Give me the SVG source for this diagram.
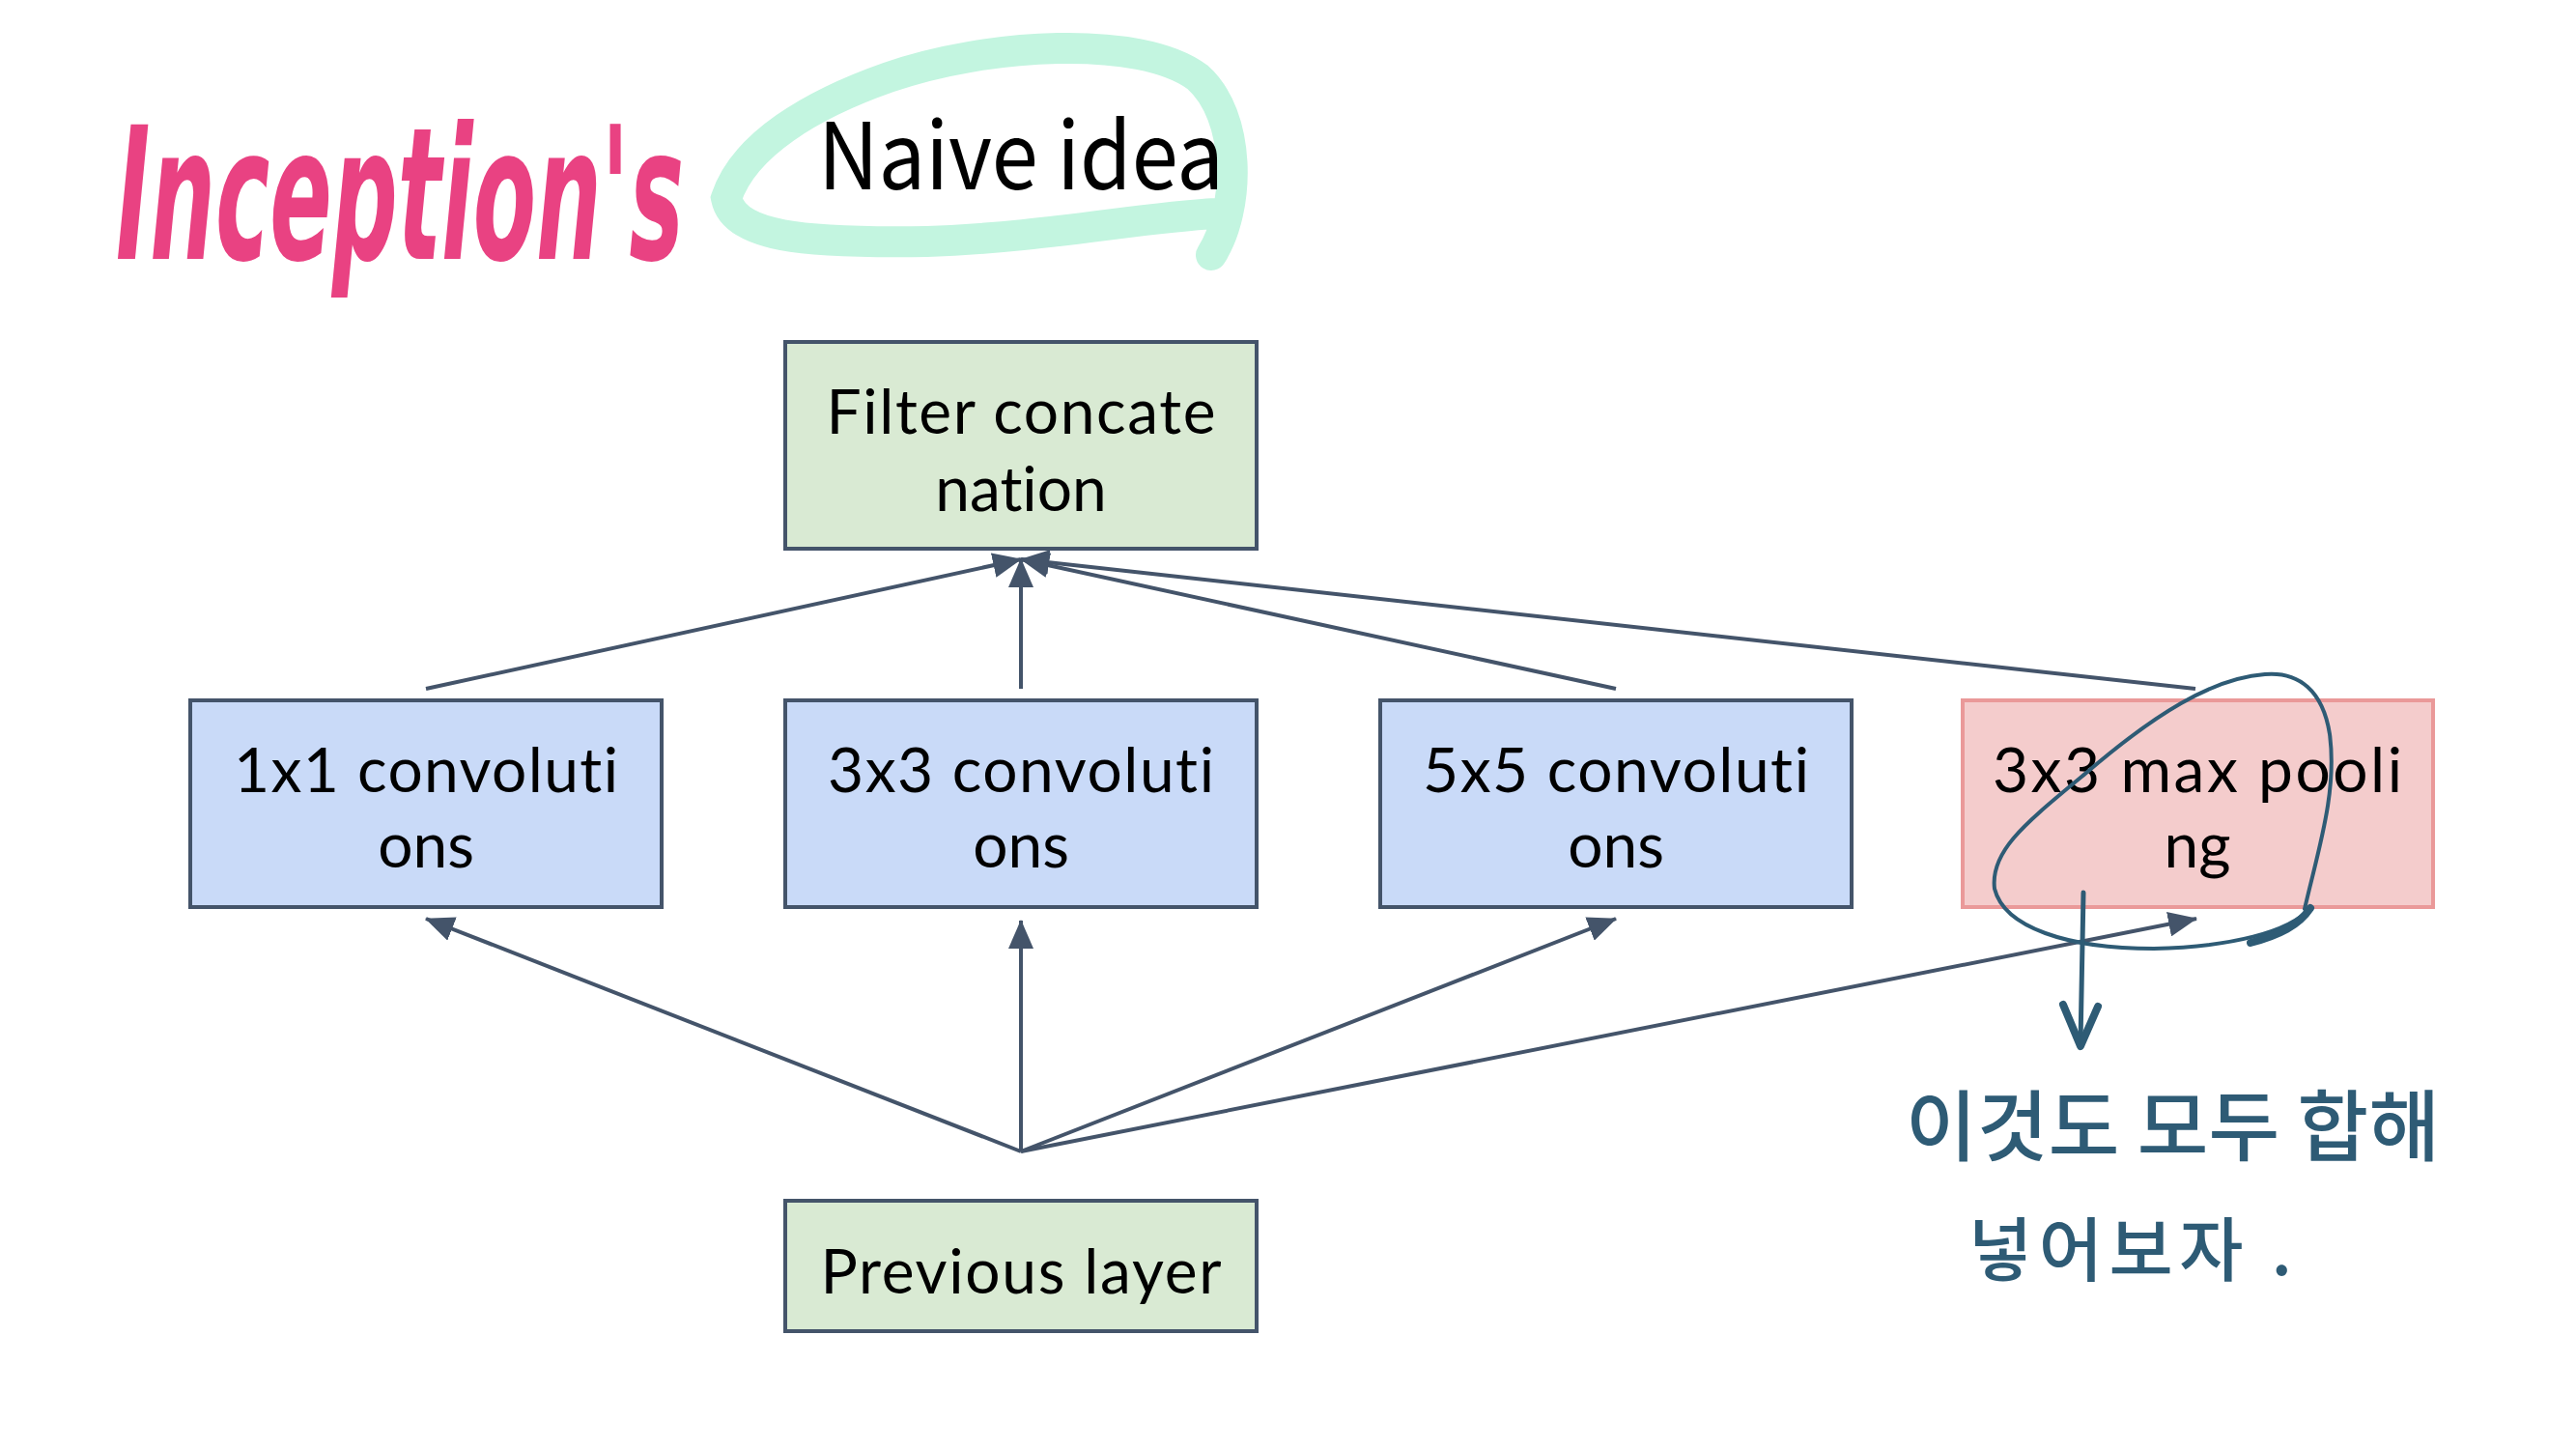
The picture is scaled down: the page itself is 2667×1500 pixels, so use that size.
<svg xmlns="http://www.w3.org/2000/svg" width="2667" height="1500" viewBox="0 0 2667 1500">
<defs>
<marker id="ah" markerUnits="userSpaceOnUse" markerWidth="30" markerHeight="26" viewBox="0 0 30 26" refX="29" refY="13" orient="auto">
<path d="M0,0 L30,13 L0,26 z" fill="#44546a"/>
</marker>
</defs>
<style>
.box{stroke:#44546a;stroke-width:4}
.green{fill:#d9ead3}
.blue{fill:#c9daf8}
.pink{fill:#f4cccc;stroke:#ea9999;stroke-width:4}
.lbl{font-family:Lato,"Noto Sans",sans-serif;font-size:64px;fill:#000;text-anchor:middle;font-variant-ligatures:none}
.conn line{stroke:#44546a;stroke-width:4;marker-end:url(#ah)}
.hand{fill:none;stroke:#2e5b75;stroke-linecap:round;stroke-linejoin:round}
.note{font-family:"Noto Sans CJK KR",sans-serif;fill:#2e5b75;font-weight:500}
</style>
<rect width="2667" height="1500" fill="#ffffff"/>

<g id="title">
<path d="M1254,264 C1285,215 1285,120 1240,80 C1180,35 1020,45 920,80 C840,108 770,150 752,205 C760,245 830,252 960,250 C1080,246 1180,225 1259,221" fill="none" stroke="#c3f5e0" stroke-width="32" stroke-linecap="round"/>
<text transform="translate(120,268) scale(0.5,1)" x="0" y="0" font-family="DejaVu Sans, sans-serif" font-size="190" font-weight="bold" fill="#e94282" style="font-style:italic">Inception's</text>
<text x="847" y="196" font-family="Noto Sans CJK KR, Noto Sans, sans-serif" font-size="96" fill="#000" textLength="420" lengthAdjust="spacingAndGlyphs">Naive idea</text>
</g>

<g class="conn" id="connectors">
<line x1="441" y1="713" x2="1057" y2="579"/>
<line x1="1057" y1="713" x2="1057" y2="579"/>
<line x1="1673" y1="713" x2="1057" y2="579"/>
<line x1="2273" y1="713" x2="1057" y2="579"/>
<line x1="1057" y1="1192" x2="441" y2="951"/>
<line x1="1057" y1="1192" x2="1057" y2="953"/>
<line x1="1057" y1="1192" x2="1673" y2="951"/>
<line x1="1057" y1="1192" x2="2274" y2="951"/>
</g>

<g id="filter-concat">
<rect class="box green" x="813" y="354" width="488" height="214"/>
<text class="lbl" x="1057" y="449" textLength="403" lengthAdjust="spacing">Filter concate</text>
<text class="lbl" x="1057" y="529">nation</text>
</g>

<g id="conv1x1">
<rect class="box blue" x="197" y="725" width="488" height="214"/>
<text class="lbl" x="441" y="820" textLength="398" lengthAdjust="spacing">1x1 convoluti</text>
<text class="lbl" x="441" y="898">ons</text>
</g>

<g id="conv3x3">
<rect class="box blue" x="813" y="725" width="488" height="214"/>
<text class="lbl" x="1057" y="820" textLength="400" lengthAdjust="spacing">3x3 convoluti</text>
<text class="lbl" x="1057" y="898">ons</text>
</g>

<g id="conv5x5">
<rect class="box blue" x="1429" y="725" width="488" height="214"/>
<text class="lbl" x="1673" y="820" textLength="400" lengthAdjust="spacing">5x5 convoluti</text>
<text class="lbl" x="1673" y="898">ons</text>
</g>

<g id="maxpool">
<rect class="pink" x="2032" y="725" width="487" height="214"/>
<text class="lbl" x="2275" y="820" textLength="424" lengthAdjust="spacing">3x3 max pooli</text>
<text class="lbl" x="2275" y="898">ng</text>
</g>

<g id="previous-layer">
<rect class="box green" x="813" y="1243" width="488" height="135"/>
<text class="lbl" x="1057" y="1339" textLength="415" lengthAdjust="spacing">Previous layer</text>
</g>

<g id="annotation">
<path class="hand" stroke-width="4" d="M2386,941 C2400,880 2420,820 2412,760 C2405,715 2380,695 2345,698 C2290,702 2230,740 2160,800 C2100,850 2060,880 2065,920 C2075,960 2140,982 2230,982 C2310,980 2370,965 2392,940"/>
<path class="hand" stroke-width="8" d="M2330,976 C2360,968 2380,958 2392,940"/>
<path class="hand" stroke-width="5" d="M2157,924 L2154,1080"/>
<path class="hand" stroke-width="8" d="M2136,1040 L2154,1083 L2172,1042"/>
<text class="note" x="1973" y="1195" font-size="80" textLength="553" lengthAdjust="spacing">이것도 모두 합해</text>
<text class="note" x="2038" y="1320" font-size="72" textLength="335" lengthAdjust="spacing">넣어보자 .</text>
</g>
</svg>
